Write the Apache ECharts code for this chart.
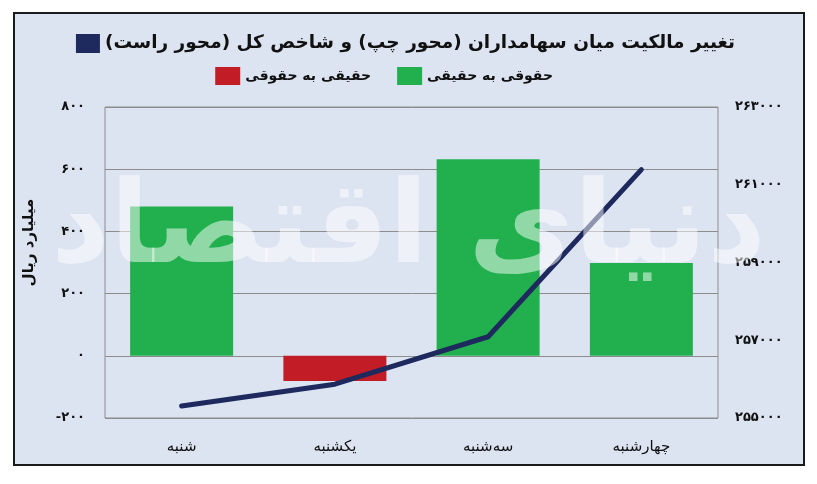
<!DOCTYPE html>
<html>
<head>
<meta charset="utf-8">
<script src="https://cdn.jsdelivr.net/npm/echarts@6/dist/echarts.min.js"></script>
<style>
html,body{margin:0;padding:0;background:#ffffff;}
#chart{width:817px;height:484px;}
</style>
</head>
<body>
<div id="chart"></div>
<script>
var RLM = '\u200F';
var categories = ['شنبه', 'یکشنبه', 'سه‌شنبه', 'چهارشنبه'];
var legalToReal = [480, null, 632, 298];     // حقوقی به حقیقی
var realToLegal = [null, -81, null, null];   // حقیقی به حقوقی
var indexValues = [255310, 255870, 257090, 261390];
var leftTicks = { min: -200, max: 800, interval: 200 };
var rightTicks = { min: 255000, max: 263000, interval: 2000 };

var titleText = RLM + 'تغییر مالکیت میان سهامداران (محور چپ) و شاخص کل (محور راست)' + RLM;
var nameGreen = RLM + 'حقوقی به حقیقی' + RLM;
var nameRed = RLM + 'حقیقی به حقوقی' + RLM;
var axisName = RLM + 'میلیارد ریال' + RLM;
var watermark = RLM + 'دنیای اقتصاد' + RLM;

var fa = '۰۱۲۳۴۵۶۷۸۹';
function toFa(v) {
  return String(v).replace(/[0-9]/g, function (d) { return fa[+d]; });
}

var FONT = 'DejaVu Sans';
var chart = echarts.init(document.getElementById('chart'), null, { renderer: 'canvas' });
chart.setOption({
  animation: false,
  textStyle: { fontFamily: FONT },
  graphic: [
    { type: 'rect', z: -10, shape: { x: 14, y: 13, width: 790, height: 452 },
      style: { fill: '#dce3f1', stroke: '#1a1a1a', lineWidth: 2 } },
    { type: 'text', z: 100, left: 'center', top: 175,
      style: { text: watermark, font: 'bold 115px "DejaVu Sans"', fill: 'rgba(255,255,255,0.5)' } }
  ],
  legend: [
    { data: [{ name: titleText, icon: 'rect' }], right: 77, top: 29, itemWidth: 24, itemHeight: 19, itemGap: 6,
      textStyle: { fontSize: 18.5, fontWeight: 'bold', color: '#111', fontFamily: FONT } },
    { data: [{ name: nameRed, icon: 'rect' }, { name: nameGreen, icon: 'rect' }], right: 259, top: 62,
      itemWidth: 25, itemHeight: 18, itemGap: 26,
      textStyle: { fontSize: 14, fontWeight: 'bold', color: '#111', fontFamily: FONT } }
  ],
  grid: { left: 105, right: 99, top: 107, bottom: 66, show: true, borderColor: '#8c8c8c', borderWidth: 1 },
  xAxis: {
    type: 'category', data: categories,
    axisLine: { show: false }, axisTick: { show: false },
    axisLabel: { margin: 22, fontSize: 15, color: '#111', fontFamily: FONT }
  },
  yAxis: [
    { type: 'value', min: leftTicks.min, max: leftTicks.max, interval: leftTicks.interval,
      name: axisName, nameLocation: 'middle', nameRotate: 90, nameGap: 68,
      nameTextStyle: { fontSize: 15, fontWeight: 'bold', color: '#111', fontFamily: FONT, padding: [0, 0, 0, 40] },
      axisLine: { show: false }, axisTick: { show: false },
      splitLine: { lineStyle: { color: '#8c8c8c', width: 1 } },
      axisLabel: { margin: 20, fontSize: 13, fontWeight: 'bold', color: '#111', formatter: function (v) { return toFa(v); } } },
    { type: 'value', min: rightTicks.min, max: rightTicks.max, interval: rightTicks.interval,
      axisLine: { show: false }, axisTick: { show: false }, splitLine: { show: false },
      axisLabel: { margin: 17, fontSize: 13, fontWeight: 'bold', color: '#111', formatter: function (v) { return toFa(v); } } }
  ],
  series: [
    { name: nameGreen, type: 'bar', stack: 'flow', data: legalToReal, barWidth: 103,
      itemStyle: { color: '#22b04f' } },
    { name: nameRed, type: 'bar', stack: 'flow', data: realToLegal, barWidth: 103,
      itemStyle: { color: '#c21d26' } },
    { name: titleText, type: 'line', yAxisIndex: 1, data: indexValues, symbol: 'none',
      itemStyle: { color: '#1e2a5e' },
      lineStyle: { color: '#1e2a5e', width: 5, cap: 'round', join: 'round' } }
  ]
});
</script>
</body>
</html>
